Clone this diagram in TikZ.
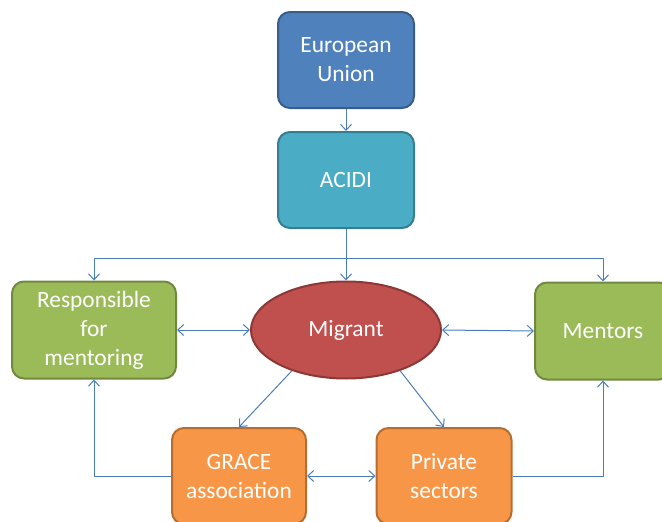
\documentclass[tikz,border=0pt]{standalone}
\usepackage{fontspec}
\setmainfont{Carlito}
\usetikzlibrary{arrows.meta,shapes.geometric}
\definecolor{euF}{HTML}{4F81BD}\definecolor{euD}{HTML}{385D8A}
\definecolor{acF}{HTML}{4BACC6}\definecolor{acD}{HTML}{357D91}
\definecolor{grF}{HTML}{9BBB59}\definecolor{grD}{HTML}{71893F}
\definecolor{rdF}{HTML}{C0504D}\definecolor{rdD}{HTML}{8C3836}
\definecolor{orF}{HTML}{F79646}\definecolor{orD}{HTML}{B66D31}
\definecolor{lnC}{HTML}{4A7EBB}
\tikzset{
  box/.style={rounded corners=12pt, line width=2pt, minimum width=136pt, minimum height=96pt,
    align=center, text=white, inner sep=0pt,
    font=\fontsize{23.4pt}{29pt}\selectfont},
  arr/.style={draw=lnC, line width=1pt, -{Straight Barb[length=6pt,width=11pt]}},
  darr/.style={draw=lnC, line width=1pt, {Straight Barb[length=6pt,width=11pt]}-{Straight Barb[length=6pt,width=11pt]}}
}
\begin{document}
\begin{tikzpicture}[x=1pt,y=-1pt]
\useasboundingbox (0,0) rectangle (662,522);
\clip (0,0) rectangle (662,522);
\node[box, fill=euF, draw=euD] (eu) at (346,60) {European\\Union};
\node[box, fill=acF, draw=acD] (acidi) at (346,180) {ACIDI};
\node[box, fill=grF, draw=grD, minimum width=164pt, minimum height=97pt] (resp) at (94,330) {Responsible\\for\\mentoring};
\node[ellipse, fill=rdF, draw=rdD, line width=2pt, minimum width=190pt, minimum height=97pt, inner sep=0pt,
  text=white, font=\fontsize{23.4pt}{29pt}\selectfont] (mig) at (346,330) {Migrant};
\node[box, fill=grF, draw=grD, minimum height=97pt] (ment) at (603,331) {Mentors};
\node[box, fill=orF, draw=orD, minimum width=134pt, minimum height=96pt] (grace) at (239,476) {GRACE\\association};
\node[box, fill=orF, draw=orD, minimum width=135pt, minimum height=96pt] (priv) at (444,476) {Private\\sectors};
\draw[arr] (eu.south) -- (acidi.north);
\draw[arr] (acidi.south) -- (mig.north);
\draw[arr] (acidi.south) -- ++(0,29) -| (resp.north);
\draw[arr] (acidi.south) -- ++(0,29) -| (ment.north);
\draw[darr] (resp.east) -- (mig.west);
\draw[darr] (mig.east) -- (ment.west);
\draw[arr] (mig.217) -- (grace.north);
\draw[arr] (mig.323) -- (priv.north);
\draw[darr] (grace.east) -- (priv.west);
\draw[arr] (grace.west) -| (resp.south);
\draw[arr] (priv.east) -| (ment.south);
\end{tikzpicture}
\end{document}
